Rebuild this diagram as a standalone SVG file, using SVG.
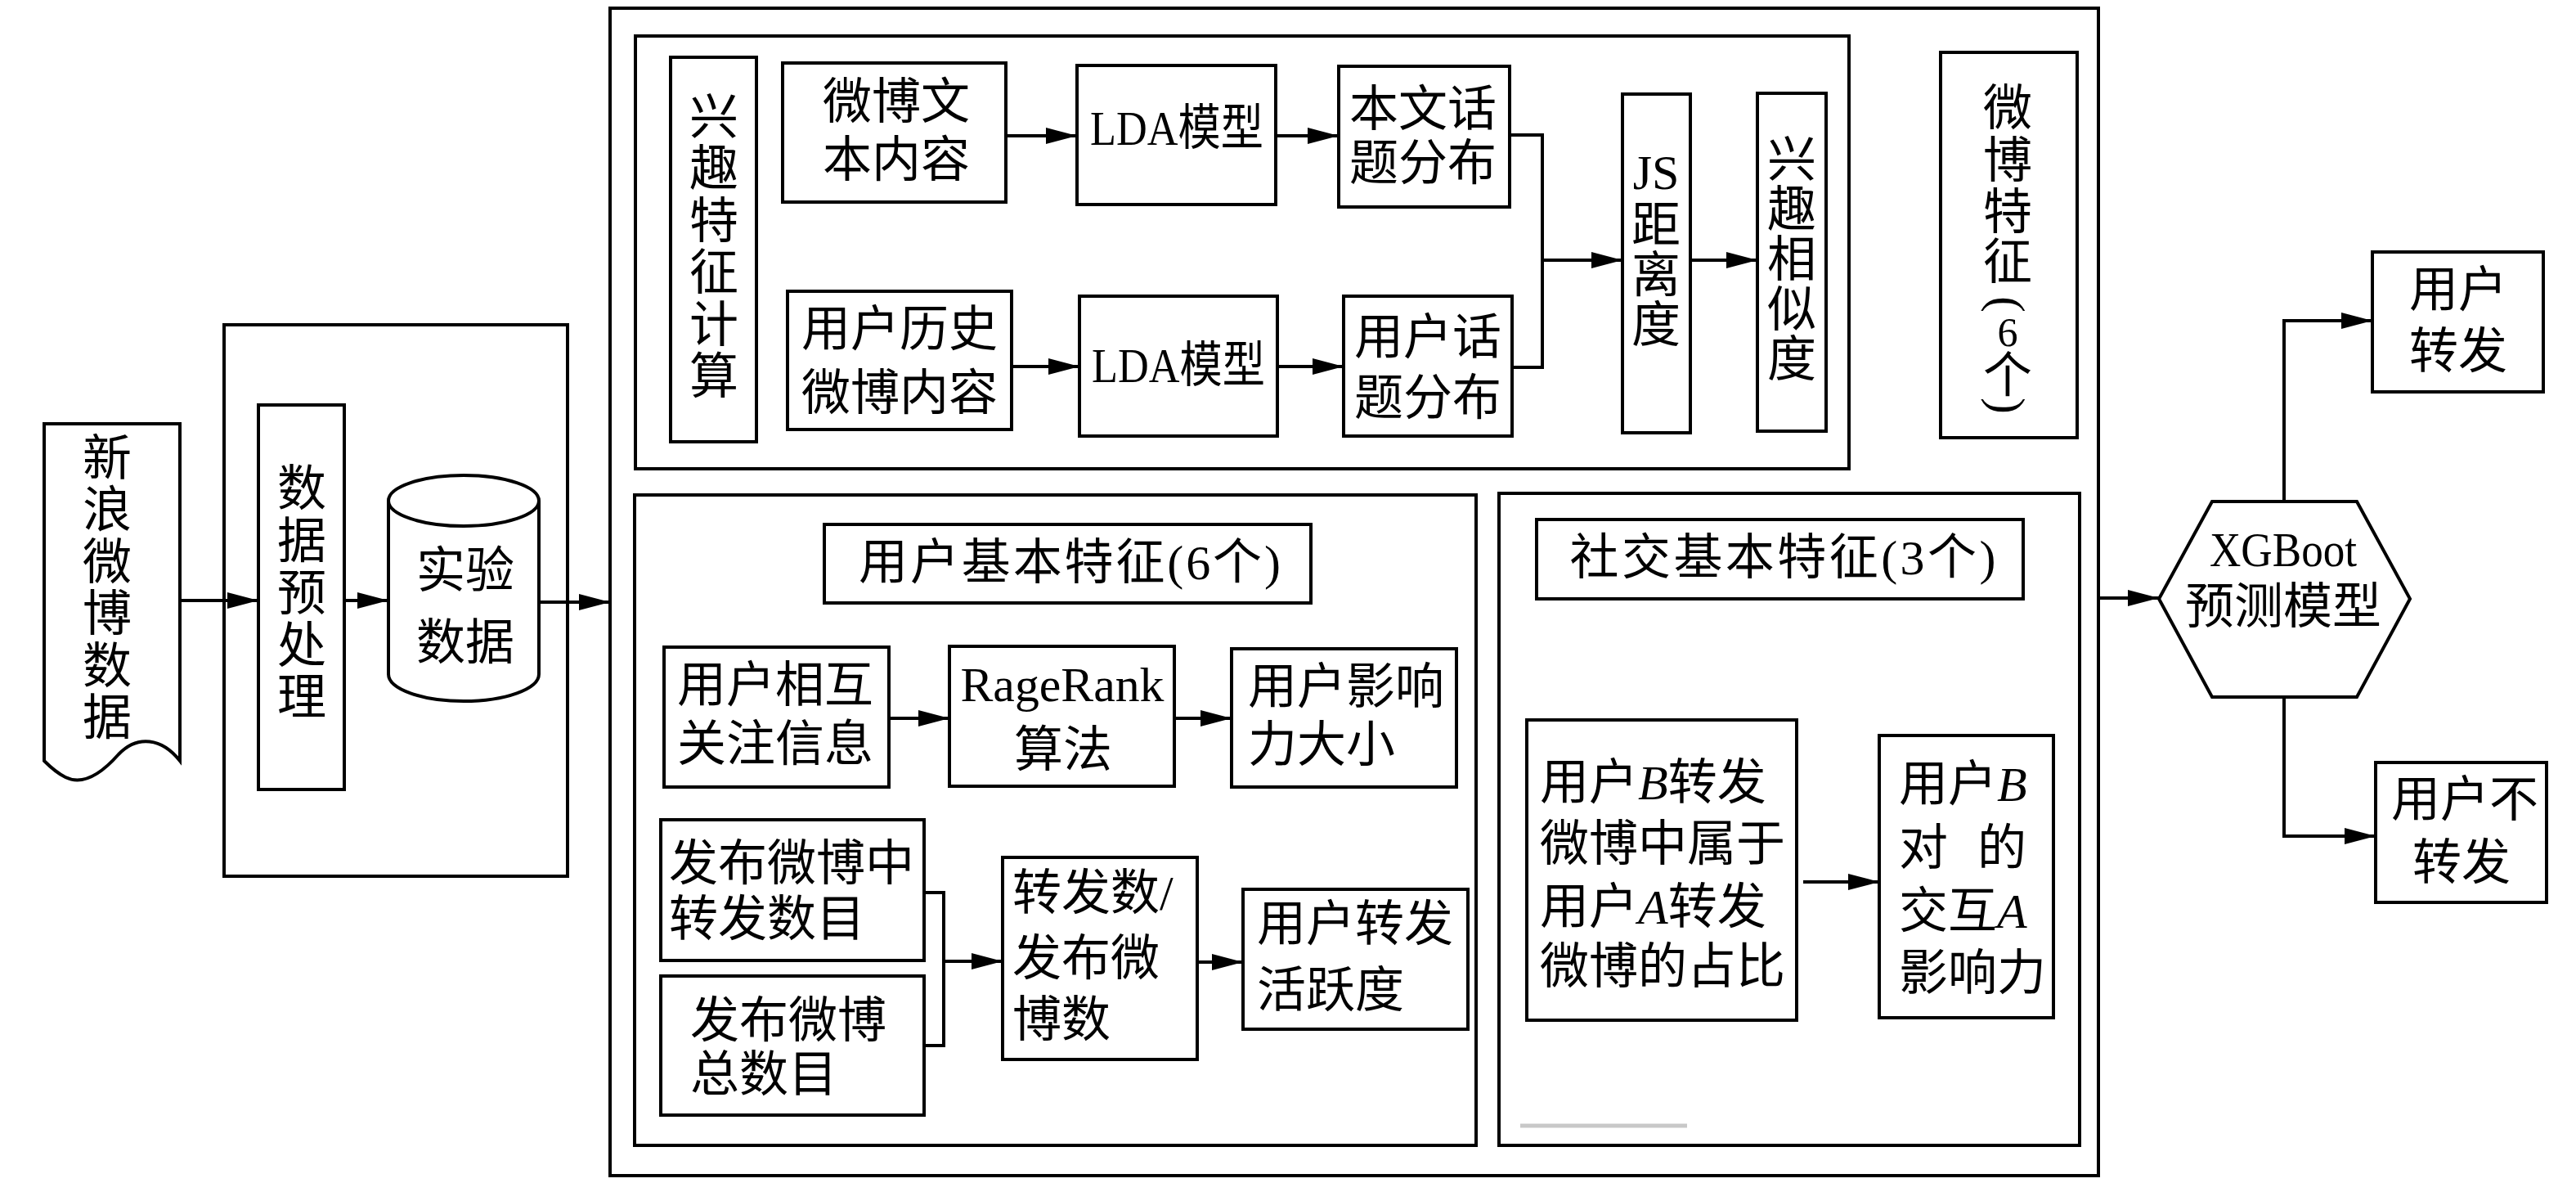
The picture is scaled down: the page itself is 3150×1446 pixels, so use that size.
<svg xmlns="http://www.w3.org/2000/svg" width="3150" height="1446" viewBox="0 0 3150 1446">
<style>
.b{fill:#fff;stroke:#000;stroke-width:4}
.f{fill:none;stroke:#000;stroke-width:4}
.l{fill:none;stroke:#000;stroke-width:4}
.a{fill:none;stroke:#000;stroke-width:4;marker-end:url(#ah)}
.t{font-family:"Liberation Serif","Noto Sans CJK SC",serif;font-size:60px;fill:#000;dominant-baseline:central}
.c{text-anchor:middle}
.i{font-style:italic}
</style>
<defs>
<marker id="ah" markerUnits="userSpaceOnUse" markerWidth="38" markerHeight="20" viewBox="0 0 38 20" refX="38" refY="10" orient="auto">
<path d="M0,0 L38,10 L0,20 Z" fill="#000"/>
</marker>
</defs>
<rect width="3150" height="1446" fill="#fff"/>

<!-- containers -->
<g id="preprocess-container"><rect class="f" x="274" y="397" width="420" height="674"/></g>
<g id="main-container"><rect class="f" x="746" y="10" width="1820" height="1427"/></g>
<g id="interest-container"><rect class="f" x="777" y="44" width="1484" height="529"/></g>
<g id="user-container"><rect class="f" x="776" y="605" width="1029" height="795"/></g>
<g id="social-container"><rect class="f" x="1833" y="603" width="710" height="797"/></g>

<!-- connectors -->
<g id="connectors">
<line class="a" x1="220" y1="734" x2="316" y2="734"/>
<line class="a" x1="421" y1="734" x2="475" y2="734"/>
<line class="a" x1="659" y1="736" x2="746" y2="736"/>
<line class="a" x1="1230" y1="166" x2="1317" y2="166"/>
<line class="a" x1="1560" y1="166" x2="1637" y2="166"/>
<line class="a" x1="1237" y1="448" x2="1320" y2="448"/>
<line class="a" x1="1562" y1="448" x2="1643" y2="448"/>
<polyline class="l" points="1846,165 1886,165 1886,449 1849,449"/>
<line class="a" x1="1886" y1="318" x2="1984" y2="318"/>
<line class="a" x1="2067" y1="318" x2="2149" y2="318"/>
<line class="a" x1="1087" y1="878" x2="1161" y2="878"/>
<line class="a" x1="1436" y1="878" x2="1506" y2="878"/>
<polyline class="l" points="1130,1091 1154,1091 1154,1278 1130,1278"/>
<line class="a" x1="1154" y1="1175" x2="1226" y2="1175"/>
<line class="a" x1="1464" y1="1176" x2="1520" y2="1176"/>
<line class="a" x1="2205" y1="1078" x2="2298" y2="1078"/>
<line class="a" x1="2566" y1="731" x2="2640" y2="731"/>
<polyline class="a" points="2793,613 2793,392 2901,392"/>
<polyline class="a" points="2793,852 2793,1022 2905,1022"/>
<line x1="1859" y1="1376" x2="2063" y2="1376" stroke="#c8c8c8" stroke-width="5"/>
</g>

<!-- left part -->
<g id="sina-data">
<path class="b" d="M54,518 H220 V930 C198,902 168,898 145,922 C122,948 100,960 80,950 C68,944 60,936 54,930 Z"/>
<text class="t c" x="131" y="561">新</text>
<text class="t c" x="131" y="624">浪</text>
<text class="t c" x="131" y="688">微</text>
<text class="t c" x="131" y="751">博</text>
<text class="t c" x="131" y="815">数</text>
<text class="t c" x="131" y="878">据</text>
</g>
<g id="preprocess">
<rect class="b" x="316" y="495" width="105" height="470"/>
<text class="t c" x="369" y="598">数</text>
<text class="t c" x="369" y="662">据</text>
<text class="t c" x="369" y="726">预</text>
<text class="t c" x="369" y="790">处</text>
<text class="t c" x="369" y="853">理</text>
</g>
<g id="exp-data">
<path class="b" d="M475,612 A92,31 0 0 1 659,612 V824 A92,33 0 0 1 475,824 Z"/>
<path class="l" d="M475,612 A92,31 0 0 0 659,612"/>
<text class="t c" x="569" y="698">实验</text>
<text class="t c" x="569" y="786">数据</text>
</g>

<!-- interest features -->
<g id="interest-label">
<rect class="b" x="820" y="70" width="105" height="470"/>
<text class="t c" x="873" y="144">兴</text>
<text class="t c" x="873" y="207">趣</text>
<text class="t c" x="873" y="271">特</text>
<text class="t c" x="873" y="334">征</text>
<text class="t c" x="873" y="398">计</text>
<text class="t c" x="873" y="461">算</text>
</g>
<g id="weibo-text">
<rect class="b" x="957" y="77" width="273" height="170"/>
<text class="t c" x="1096" y="125">微博文</text>
<text class="t c" x="1096" y="196">本内容</text>
</g>
<g id="lda1">
<rect class="b" x="1317" y="80" width="243" height="170"/>
<text class="t c" x="1439" y="157" textLength="212" lengthAdjust="spacingAndGlyphs">LDA模型</text>
</g>
<g id="text-topic">
<rect class="b" x="1637" y="81" width="209" height="172"/>
<text class="t c" x="1740" y="134">本文话</text>
<text class="t c" x="1740" y="200">题分布</text>
</g>
<g id="user-history">
<rect class="b" x="963" y="356" width="274" height="169"/>
<text class="t c" x="1100" y="403">用户历史</text>
<text class="t c" x="1100" y="481">微博内容</text>
</g>
<g id="lda2">
<rect class="b" x="1320" y="362" width="242" height="171"/>
<text class="t c" x="1441" y="447" textLength="212" lengthAdjust="spacingAndGlyphs">LDA模型</text>
</g>
<g id="user-topic">
<rect class="b" x="1643" y="362" width="206" height="171"/>
<text class="t c" x="1746" y="413">用户话</text>
<text class="t c" x="1746" y="487">题分布</text>
</g>
<g id="js-distance">
<rect class="b" x="1984" y="115" width="83" height="414"/>
<text class="t c" x="2025" y="211">JS</text>
<text class="t c" x="2025" y="276">距</text>
<text class="t c" x="2025" y="337">离</text>
<text class="t c" x="2025" y="398">度</text>
</g>
<g id="interest-similarity">
<rect class="b" x="2149" y="114" width="84" height="413"/>
<text class="t c" x="2191" y="196">兴</text>
<text class="t c" x="2191" y="257">趣</text>
<text class="t c" x="2191" y="318">相</text>
<text class="t c" x="2191" y="379">似</text>
<text class="t c" x="2191" y="440">度</text>
</g>
<g id="weibo-features">
<rect class="b" x="2373" y="64" width="167" height="471"/>
<text class="t c" x="2455" y="133">微</text>
<text class="t c" x="2455" y="197">博</text>
<text class="t c" x="2455" y="260">特</text>
<text class="t c" x="2455" y="321">征</text>
<text class="t c" transform="translate(2455,372) rotate(90)" x="0" y="0">(</text>
<text class="t c" x="2455" y="406" style="font-size:50px">6</text>
<text class="t c" x="2455" y="460">个</text>
<text class="t c" transform="translate(2455,496) rotate(90)" x="0" y="0">)</text>
</g>

<!-- user basic features -->
<g id="user-title">
<rect class="b" x="1008" y="641" width="595" height="96"/>
<text class="t c" x="1308" y="688" textLength="516" lengthAdjust="spacing">用户基本特征(6个)</text>
</g>
<g id="follow-info">
<rect class="b" x="812" y="791" width="275" height="171"/>
<text class="t c" x="948" y="838">用户相互</text>
<text class="t c" x="948" y="910">关注信息</text>
</g>
<g id="pagerank">
<rect class="b" x="1161" y="790" width="275" height="171"/>
<text class="t c" x="1299" y="837" textLength="249" lengthAdjust="spacingAndGlyphs">RageRank</text>
<text class="t c" x="1300" y="917">算法</text>
</g>
<g id="influence">
<rect class="b" x="1506" y="793" width="275" height="169"/>
<text class="t" x="1526" y="840">用户影响</text>
<text class="t" x="1526" y="911">力大小</text>
</g>
<g id="retweet-count">
<rect class="b" x="808" y="1002" width="322" height="172"/>
<text class="t" x="818" y="1056">发布微博中</text>
<text class="t" x="818" y="1124">转发数目</text>
</g>
<g id="post-count">
<rect class="b" x="808" y="1193" width="322" height="170"/>
<text class="t" x="844" y="1248">发布微博</text>
<text class="t" x="844" y="1314">总数目</text>
</g>
<g id="ratio">
<rect class="b" x="1226" y="1048" width="238" height="247"/>
<text class="t" x="1238" y="1092">转发数/</text>
<text class="t" x="1238" y="1172">发布微</text>
<text class="t" x="1238" y="1247">博数</text>
</g>
<g id="activity">
<rect class="b" x="1520" y="1087" width="275" height="171"/>
<text class="t" x="1537" y="1130">用户转发</text>
<text class="t" x="1537" y="1211">活跃度</text>
</g>

<!-- social features -->
<g id="social-title">
<rect class="b" x="1879" y="635" width="595" height="97"/>
<text class="t c" x="2180" y="682" textLength="521" lengthAdjust="spacing">社交基本特征(3个)</text>
</g>
<g id="b-ratio">
<rect class="b" x="1867" y="880" width="330" height="367"/>
<text class="t" x="1883" y="957">用户<tspan class="i">B</tspan>转发</text>
<text class="t" x="1883" y="1032">微博中属于</text>
<text class="t" x="1883" y="1109">用户<tspan class="i">A</tspan>转发</text>
<text class="t" x="1883" y="1182">微博的占比</text>
</g>
<g id="b-influence">
<rect class="b" x="2298" y="899" width="213" height="345"/>
<text class="t" x="2322" y="959">用户<tspan class="i">B</tspan></text>
<text class="t" x="2322" y="1037">对<tspan x="2418">的</tspan></text>
<text class="t" x="2322" y="1114">交互<tspan class="i">A</tspan></text>
<text class="t" x="2322" y="1190">影响力</text>
</g>

<!-- output -->
<g id="xgboost">
<polygon class="b" points="2640,732 2705,613 2882,613 2947,732 2882,852 2705,852"/>
<text class="t c" x="2792" y="672" textLength="180" lengthAdjust="spacingAndGlyphs">XGBoot</text>
<text class="t c" x="2792" y="742">预测模型</text>
</g>
<g id="retweet">
<rect class="b" x="2901" y="308" width="209" height="171"/>
<text class="t c" x="3006" y="355">用户</text>
<text class="t c" x="3006" y="430">转发</text>
</g>
<g id="no-retweet">
<rect class="b" x="2905" y="932" width="209" height="171"/>
<text class="t c" x="3014" y="978">用户不</text>
<text class="t c" x="3010" y="1055">转发</text>
</g>
</svg>
